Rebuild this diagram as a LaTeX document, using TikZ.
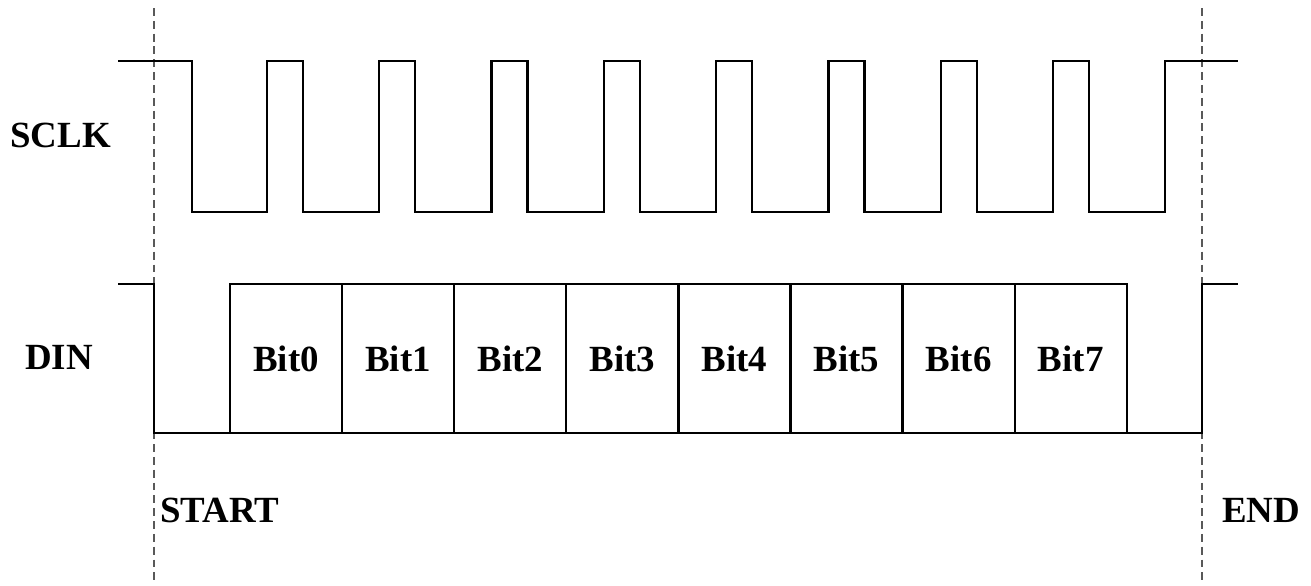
\documentclass[tikz,border=0pt]{standalone}
\usepackage{fontspec}
\setmainfont{Liberation Serif}
\begin{document}
\begin{tikzpicture}[
    x=0.02cm, y=-0.02cm,
    wave/.style={line width=1.3pt, line join=miter},
    marker/.style={draw=black!65, line width=1.1pt, dash pattern=on 4.5pt off 2.8pt},
    sig/.style={anchor=west, inner sep=0pt, font=\fontsize{21}{24}\selectfont\bfseries},
    bitbox/.style={rectangle, draw, line width=1.3pt, minimum width=2.242cm, minimum height=2.98cm, inner sep=0pt, font=\fontsize{21}{24}\selectfont\bfseries}
]
    \useasboundingbox (0,0) rectangle (1311,585);

    % Start and end markers
    \coordinate (st top) at (154,8);
    \coordinate (st bot) at (154,585);
    \coordinate (en top) at (1202,8);
    \coordinate (en bot) at (1202,585);
    \draw[marker] (st top) -- (st bot);
    \draw[marker] (en top) -- (en bot);

    % Signal names
    \node[sig] (sclk) at (10,135) {SCLK};
    \node[sig] (din) at (25,357) {DIN};
    \node[sig] (start) at (160,510) {START};
    \node[sig] (end) at (1222,510) {END};

    % Clock
    \draw[wave] (118,61) -- (192,61) -- (192,212)
        \foreach \k in {0,...,7}{
            -- ({267+112.3*\k},212) -- ({267+112.3*\k},61)
            -- ({303+112.3*\k},61) -- ({303+112.3*\k},212)
        } -- (1165,212) -- (1165,61) -- (1238,61);

    % Data line
    \draw[wave] (118,284) -- (154,284) -- (154,433) -- (1202,433) -- (1202,284) -- (1238,284);

    % Data bits
    \foreach \i in {0,...,7}
        \node[bitbox] (bit\i) at ({230+112.1*(\i+0.5)},358.5) {Bit\i};
\end{tikzpicture}
\end{document}
